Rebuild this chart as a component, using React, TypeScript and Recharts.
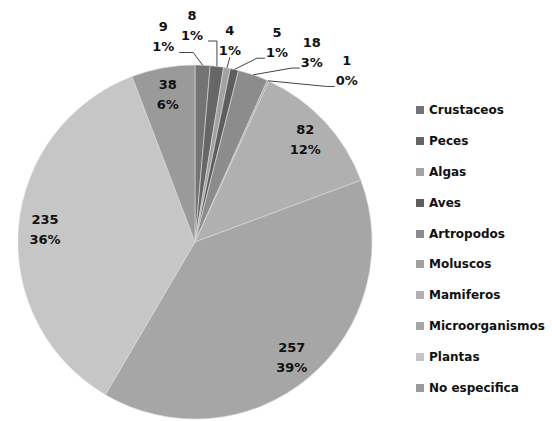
import { PieChart, Pie, Cell, Legend } from "recharts";

const categories = [
  "Crustaceos",
  "Peces",
  "Algas",
  "Aves",
  "Artropodos",
  "Moluscos",
  "Mamiferos",
  "Microorganismos",
  "Plantas",
  "No especifica",
];
const counts = [9, 8, 4, 5, 18, 1, 82, 257, 235, 38];

const COLORS = ["#747474", "#666666", "#a2a2a2", "#5e5e5e", "#8c8c8c", "#a0a0a0", "#b0b0b0", "#a6a6a6", "#c6c6c6", "#9a9a9a"];

// outside label placement for the thin slices: angle clockwise from 12 o'clock, radius as multiple of outerRadius
const OUTER_LABELS: Record<number, { ang: number; r: number }> = {
  0: { ang: -8.8, r: 1.175 },
  1: { ang: -0.8, r: 1.226 },
  2: { ang: 9.8, r: 1.158 },
  3: { ang: 22.3, r: 1.22 },
  4: { ang: 31.6, r: 1.26 },
  5: { ang: 41.5, r: 1.294 },
};

const RAD = Math.PI / 180;
const FONT = "'DejaVu Sans', sans-serif";

const data = categories.map((name, i) => ({ name, value: counts[i] }));

function renderLabel(props: any) {
  const { cx, cy, midAngle, outerRadius, percent, value, index } = props;
  const pct = `${Math.round(percent * 100)}%`;
  const ex = cx + outerRadius * Math.cos(-midAngle * RAD);
  const ey = cy + outerRadius * Math.sin(-midAngle * RAD);
  let lx: number;
  let ly: number;
  let line = null;
  const out = OUTER_LABELS[index];
  if (out) {
    lx = cx + outerRadius * out.r * Math.sin(out.ang * RAD);
    ly = cy - outerRadius * out.r * Math.cos(out.ang * RAD);
    const endY = ly + 16;
    let pts: string;
    if (Math.abs(lx - ex) < 10) {
      pts = `${ex},${ey} ${lx},${ly + 17}`;
    } else if (lx < ex) {
      const endX = lx + 16;
      const elbowX = Math.min(endX + 14, ex);
      pts = `${ex},${ey} ${elbowX},${endY} ${endX},${endY}`;
    } else {
      const endX = lx - 12;
      const elbowX = Math.max(endX - 8, ex);
      pts = `${ex},${ey} ${elbowX},${endY} ${endX},${endY}`;
    }
    line = <polyline points={pts} fill="none" stroke="#444" strokeWidth={1} />;
  } else {
    const r = outerRadius * 0.85;
    lx = cx + r * Math.cos(-midAngle * RAD);
    ly = cy + r * Math.sin(-midAngle * RAD);
  }
  return (
    <g key={`lbl-${index}`}>
      {line}
      <text x={lx} y={ly - 10} textAnchor="middle" dominantBaseline="central" fontFamily={FONT} fontWeight="bold" fontSize={13} fill="#111">
        {value}
      </text>
      <text x={lx} y={ly + 10} textAnchor="middle" dominantBaseline="central" fontFamily={FONT} fontWeight="bold" fontSize={13} fill="#111">
        {pct}
      </text>
    </g>
  );
}

function renderLegend() {
  return (
    <div>
      {categories.map((c, i) => (
        <div key={c} style={{ height: 30.8, display: "flex", alignItems: "center" }}>
          <span style={{ width: 8, height: 8, background: COLORS[i], display: "inline-block", marginRight: 5 }} />
          <span style={{ fontFamily: FONT, fontWeight: "bold", fontSize: 12, color: "#111" }}>{c}</span>
        </div>
      ))}
    </div>
  );
}

export default function App() {
  return (
    <div style={{ position: "absolute", left: 0, top: 0, width: 552, height: 421, background: "#fff" }}>
      <PieChart width={552} height={421} margin={{ top: 0, right: 0, bottom: 0, left: 0 }}>
        <Pie
          data={data}
          dataKey="value"
          nameKey="name"
          cx={195}
          cy={242}
          outerRadius={177}
          startAngle={90}
          endAngle={-270}
          stroke="#dcdcdc"
          strokeWidth={0.6}
          label={renderLabel}
          labelLine={false}
          isAnimationActive={false}
        >
          {data.map((d, i) => (
            <Cell key={d.name} fill={COLORS[i]} />
          ))}
        </Pie>
        <Legend content={renderLegend} wrapperStyle={{ position: "absolute", left: 416, top: 95, width: 136 }} />
      </PieChart>
    </div>
  );
}
